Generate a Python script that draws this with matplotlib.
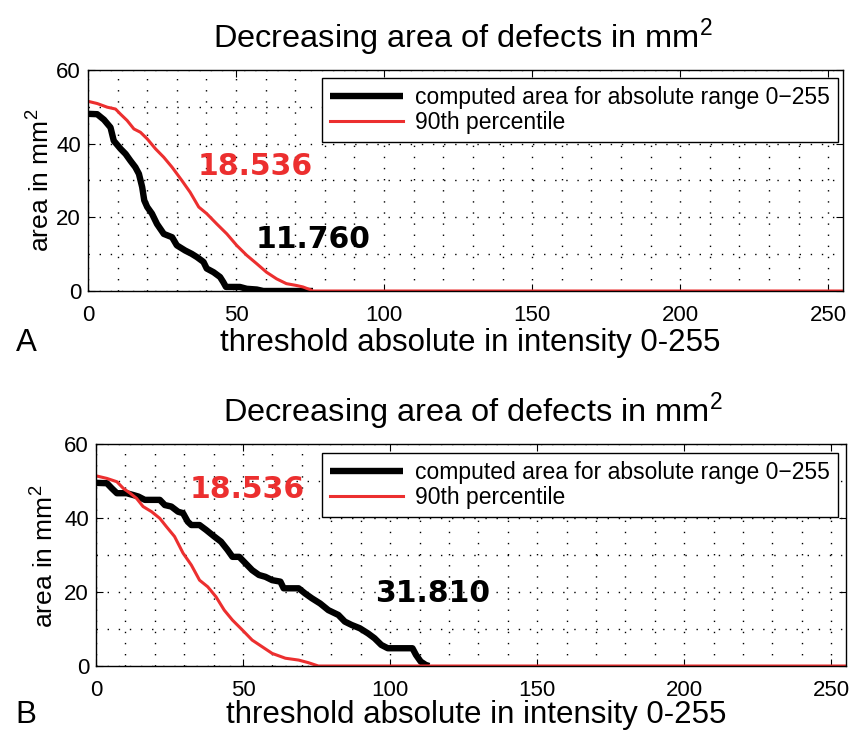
import matplotlib

matplotlib.use("Agg")
import matplotlib.pyplot as plt
from matplotlib.ticker import MultipleLocator

plt.rcParams["font.family"] = ["Liberation Sans", "DejaVu Sans"]
plt.rcParams["mathtext.fontset"] = "custom"
plt.rcParams["mathtext.rm"] = "Liberation Sans"

RED = "#ec2f2f"

# panel A, computed area (black)
a_black_x = [0, 3.1, 5.4, 7.6, 8.7, 11, 12.7, 14.3, 16, 17.2, 18.3, 19, 20, 21.6,
             23.3, 25.6, 28.4, 30, 32.8, 35, 36.8, 39, 40.1, 42.4, 44.6, 45.7,
             46.6, 51.3, 53.6, 57, 59.2, 76]
a_black_y = [48.1, 48, 46.5, 44.4, 40.8, 38.6, 37.2, 35.4, 33.6, 31.8, 28.2, 24.6,
             22.8, 21, 18.2, 15.5, 14.6, 12.4, 11, 10.1, 9.2, 7.9, 6.1, 5.1, 3.8,
             2.4, 1.1, 1.1, 0.6, 0.4, 0, 0]

# panel A, 90th percentile (red)
a_red_x = [0, 3.1, 6.5, 9.3, 11, 13.2, 15.5, 17.7, 20, 22.8, 25.6, 28.4, 31.7,
           34.5, 37.4, 40.1, 43.5, 46.9, 50.2, 53.6, 57, 60.3, 63.7, 67, 70.4,
           72.6, 74.9, 76, 255]
a_red_y = [51.5, 50.9, 49.9, 49.4, 48, 46.3, 44, 43.1, 41.3, 38.6, 36.3, 33.6, 30,
           26.8, 22.8, 21, 18.2, 15.5, 12.4, 9.7, 7.4, 5.1, 3.3, 2, 1.5, 1.1, 0.4,
           0, 0]

# panel B, computed area (black)
b_black_x = [0, 3.7, 5.4, 7.1, 10.4, 12.7, 14.4, 16.6, 21.7, 23.4, 25.6, 27.9,
             29.6, 31.2, 32.4, 35.2, 37.4, 40.2, 42.5, 44.7, 46.4, 48.7, 50.9,
             53.1, 55.4, 57.6, 59.9, 62.7, 63.8, 68.9, 71.1, 73.4, 76.2, 79, 82.4,
             84.6, 86.9, 89.7, 92.5, 94.7, 97, 99.2, 107.6, 108.8, 110.4, 112.1,
             113.3]
b_black_y = [49.5, 49.4, 48, 46.7, 46.7, 46.2, 45.8, 44.9, 44.9, 43.5, 43.1, 41.7,
             41.3, 39, 38.1, 38.1, 36.8, 35, 33.6, 31.4, 29.5, 29.5, 27.7, 25.9,
             24.6, 24.1, 23.2, 22.8, 21, 21, 19.6, 18.3, 16.9, 15.1, 13.8, 12, 11.1,
             10.2, 8.8, 7.5, 5.7, 4.8, 4.8, 3, 1.2, 0.3, 0]

# panel B, 90th percentile (red)
b_red_x = [0, 3.7, 7.1, 9.3, 11.6, 13.8, 16, 18.9, 21.7, 23.9, 26.7, 29.6, 32.4,
           35.2, 38, 40.8, 43.6, 46.4, 49.8, 53.1, 56.5, 59.9, 64.4, 68.9, 72.2,
           75.6, 255]
b_red_y = [51.4, 50.7, 49.8, 48, 46.7, 45.3, 43.1, 41.7, 39.9, 37.7, 35, 30.5,
           27.3, 23.2, 21.4, 18.7, 15.1, 12.4, 9.7, 7, 5.2, 3.4, 2.1, 1.6, 0.9, 0,
           0]

x_ticks = [0, 50, 100, 150, 200, 250]
y_ticks = [0, 20, 40, 60]

legend_labels = ["computed area for absolute range 0\u2212255", "90th percentile"]
title_text = "Decreasing area of defects in mm$^2$"
x_label = "threshold absolute in intensity 0-255"
y_label = "area in mm$^2$"

panels = [
    {
        "rect": [88 / 855, 1 - 291 / 732, 755 / 855, 221 / 732],
        "black": (a_black_x, a_black_y),
        "red": (a_red_x, a_red_y),
        "notes": [("18.536", 56.6, 33.7, RED), ("11.760", 76.0, 13.9, "black")],
        "legend_anchor": (0.993, 0.964),
        "title_xy": (463, 38),
        "xlabel_xy": (470, 343),
        "ylabel_xy": (40, 180),
        "letter": ("A", 26, 343),
    },
    {
        "rect": [96 / 855, 1 - 666 / 732, 750 / 855, 222 / 732],
        "black": (b_black_x, b_black_y),
        "red": (b_red_x, b_red_y),
        "notes": [("18.536", 51.4, 47.6, RED), ("31.810", 114.6, 19.7, "black")],
        "legend_anchor": (0.989, 0.959),
        "title_xy": (473, 412),
        "xlabel_xy": (476, 715),
        "ylabel_xy": (44, 556),
        "letter": ("B", 26, 715),
    },
]

fig = plt.figure(figsize=(8.55, 7.32), dpi=100)

for panel in panels:
    ax = fig.add_axes(panel["rect"])
    ax.plot(*panel["black"], color="black", linewidth=4.6, solid_joinstyle="round",
            solid_capstyle="butt", label=legend_labels[0])
    ax.plot(*panel["red"], color=RED, linewidth=2.2, label=legend_labels[1])

    ax.set_xlim(0, 255)
    ax.set_ylim(0, 60)
    ax.set_xticks(x_ticks)
    ax.set_yticks(y_ticks)
    ax.xaxis.set_minor_locator(MultipleLocator(10))
    ax.yaxis.set_minor_locator(MultipleLocator(10))
    ax.grid(which="both", color="black", linestyle=(0, (1, 7)), linewidth=1.0)
    ax.tick_params(which="major", direction="in", length=5, width=0.8,
                   top=True, right=True, labelsize=16)
    ax.tick_params(axis="x", which="major", pad=10)
    ax.tick_params(axis="y", which="major", pad=5)
    ax.tick_params(which="minor", length=0)
    for spine in ax.spines.values():
        spine.set_linewidth(1.0)

    for text, x, y, color in panel["notes"]:
        ax.text(x, y, text, color=color, fontsize=21.5, fontweight="bold",
                family="DejaVu Sans", ha="center", va="center")

    ax.legend(loc="upper right", bbox_to_anchor=panel["legend_anchor"],
              fontsize=16.5, frameon=True, fancybox=False, framealpha=1,
              edgecolor="black", handlelength=3.2, labelspacing=0.1,
              borderpad=0.35, handletextpad=0.5, borderaxespad=0)

    tx, ty = panel["title_xy"]
    fig.text(tx / 855, 1 - ty / 732, title_text, fontsize=23.4, ha="center",
             va="center")
    lx, ly = panel["xlabel_xy"]
    fig.text(lx / 855, 1 - ly / 732, x_label, fontsize=22.5, ha="center",
             va="center")
    yx, yy = panel["ylabel_xy"]
    fig.text(yx / 855, 1 - yy / 732, y_label, fontsize=19, ha="center", va="center",
             rotation=90)
    letter, px, py = panel["letter"]
    fig.text(px / 855, 1 - py / 732, letter, fontsize=22.5, ha="center", va="center")

fig.savefig("out.png", dpi=100)
